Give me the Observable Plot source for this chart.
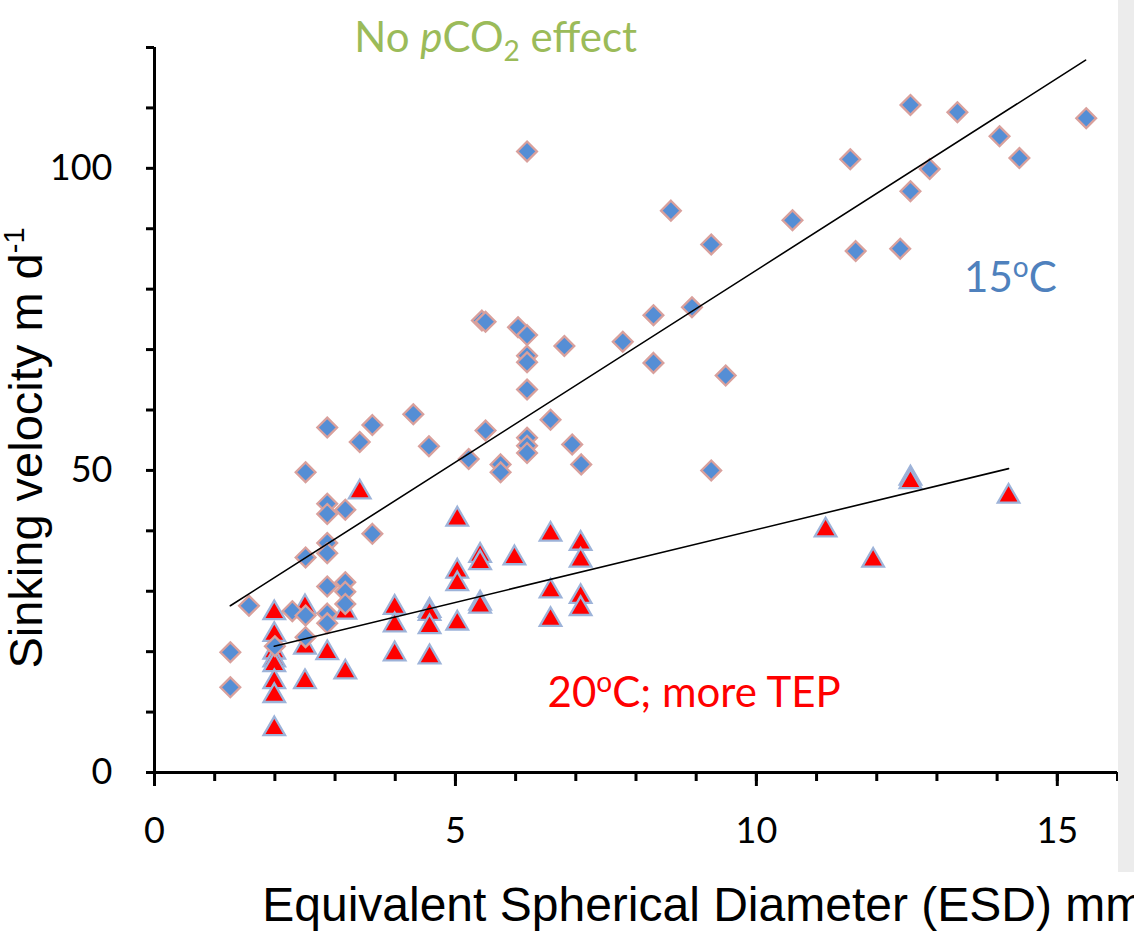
<!DOCTYPE html>
<html>
<head>
<meta charset="utf-8">
<script src="https://cdn.jsdelivr.net/npm/d3@7"></script>
<script src="https://cdn.jsdelivr.net/npm/@observablehq/plot@0.6"></script>
<style>
  html, body { margin: 0; padding: 0; background: #fff; overflow: hidden; }
  #wrap { position: relative; width: 1134px; height: 936px; overflow: hidden; background: #fff; }
  #wrap svg { position: absolute; left: 0; top: 0; overflow: hidden; }
  #band { position: absolute; left: 1118px; top: 0; width: 16px; height: 872px; background: #ececec; z-index: 2; }
</style>
</head>
<body>
<div id="wrap"><div id="band"></div></div>
<script>
// ---- 15 °C (blue diamonds): ESD (mm) and sinking velocity (m d-1)
const esd15 = [1.26, 1.26, 1.57, 2.0, 2.29,
  2.51, 2.51, 2.51, 2.51,
  2.87, 2.87, 2.87, 2.87, 2.87, 2.87, 2.87, 2.87,
  3.17, 3.17, 3.17, 3.17,
  3.41, 3.62, 3.62, 4.3, 4.56, 5.22,
  5.44, 5.5, 5.5, 5.75, 5.75, 6.04,
  6.19, 6.19, 6.19, 6.19, 6.19, 6.19, 6.19, 6.19,
  6.58, 6.81, 6.94, 7.09, 7.78,
  8.29, 8.29, 8.58, 8.93, 9.25, 9.25, 9.49,
  10.6, 11.56, 11.65, 12.39, 12.56, 12.56, 12.88, 13.34, 14.04, 14.37, 15.48];
const vel15 = [19.9, 14.1, 27.6, 20.9, 26.7,
  49.7, 35.6, 26.0, 22.4,
  57.1, 44.5, 42.8, 38.0, 36.3, 30.8, 26.3, 24.7,
  43.5, 31.5, 29.9, 27.9,
  54.7, 57.5, 39.5, 59.3, 54.0, 51.9,
  74.8, 74.6, 56.6, 51.0, 49.7, 73.7,
  102.8, 72.4, 69.0, 67.9, 63.4, 55.4, 54.1, 52.9,
  58.4, 70.6, 54.3, 51.0, 71.3,
  75.7, 67.8, 93.0, 77.0, 87.4, 50.0, 65.7,
  91.4, 101.5, 86.3, 86.7, 110.5, 96.2, 99.9, 109.3, 105.3, 101.7, 108.3];

// ---- 20 °C, more TEP (red triangles)
const esd20 = [1.99, 1.99, 1.99, 1.99, 1.99, 1.99, 1.99, 1.99,
  2.5, 2.5, 2.5, 2.87, 3.17, 3.17, 3.41,
  3.99, 3.99, 3.99, 4.57, 4.57, 4.57, 4.57,
  5.03, 5.03, 5.03, 5.03, 5.41, 5.41, 5.41, 5.41,
  5.98, 6.58, 6.58, 6.58, 7.08, 7.08, 7.08, 7.08,
  11.15, 11.94, 12.56, 12.56, 14.19];
const vel20 = [26.4, 22.8, 19.9, 18.6, 17.8, 15.0, 12.7, 7.2,
  27.4, 20.7, 15.0, 19.8, 26.5, 16.6, 46.4,
  27.3, 24.4, 19.6, 26.8, 26.3, 24.1, 19.1,
  41.9, 33.3, 31.2, 24.7, 35.9, 34.7, 28.0, 27.5,
  35.5, 39.4, 30.0, 25.3, 37.9, 35.1, 29.1, 27.1,
  40.1, 35.1, 48.7, 48.1, 45.7];

// ---- fitted regression lines (end points)
const fit15ESD = [1.26, 15.47];
const fit15Vel = [27.6, 117.9];
const fit20ESD = [1.99, 14.19];
const fit20Vel = [20.9, 50.3];

// ---- ticks
const xLabelTicks = [0, 5, 10, 15];
const xMinorTicks = d3.range(0, 17, 1);
const yLabelTicks = [0, 50, 100];
const yMinorTicks = d3.range(0, 121, 10);

// ---- texts
const xTitle = "Equivalent Spherical Diameter (ESD) mm";
const yTitle = "Sinking velocity m d-1";
const noEffect = "No pCO2 effect";
const label15 = "15oC";
const label20 = "20oC; more TEP";

const pts15 = esd15.map((x, i) => ({x, y: vel15[i]}));
const pts20 = esd20.map((x, i) => ({x, y: vel20[i]}));
const line15 = fit15ESD.map((x, i) => ({x, y: fit15Vel[i]}));
const line20 = fit20ESD.map((x, i) => ({x, y: fit20Vel[i]}));

const calibri = "Lato, 'Open Sans', sans-serif";
const arial = "'Liberation Sans', Arial, sans-serif";

const plot = Plot.plot({
  width: 1134,
  height: 936,
  marginLeft: 154,
  marginRight: 17,
  marginTop: 47,
  marginBottom: 164,
  x: {domain: [0, 16]},
  y: {domain: [0, 120]},
  style: {fontFamily: calibri, background: "transparent", color: "black"},
  marks: [
    Plot.axisX({ticks: xMinorTicks, tickSize: 9, strokeWidth: 3, tickFormat: () => "", label: null}),
    Plot.axisX({ticks: xLabelTicks, tickSize: 14, tickPadding: 31, strokeWidth: 3, fontSize: 36, fill: "black", tickFormat: d => String(d), label: null}),
    Plot.axisY({ticks: yMinorTicks, tickSize: 8, strokeWidth: 3, tickFormat: () => "", label: null}),
    Plot.axisY({ticks: yLabelTicks, tickSize: 0, tickPadding: 42, fontSize: 36, fill: "black", tickFormat: d => String(d), label: null}),
    Plot.ruleY([0], {strokeWidth: 3, stroke: "black"}),
    Plot.ruleX([0], {strokeWidth: 3, stroke: "black"}),
    Plot.dot(pts20, {x: "x", y: "y", symbol: "triangle", r: 8, fill: "#ff0000", stroke: "#9db3d9", strokeWidth: 2.3}),
    Plot.dot(pts15, {x: "x", y: "y", symbol: "diamond2", r: 8.9, fill: "#558ed5", stroke: "#d9a09c", strokeWidth: 2.3}),
    Plot.line(line15, {x: "x", y: "y", stroke: "black", strokeWidth: 1.6}),
    Plot.line(line20, {x: "x", y: "y", stroke: "black", strokeWidth: 1.6}),
    Plot.text([{x: 3.32, y: 119.2, t: noEffect}], {x: "x", y: "y", text: "t", textAnchor: "start", lineAnchor: "bottom", fontSize: 42, fill: "#9bbb59", fontFamily: calibri}),
    Plot.text([{x: 13.45, y: 79.5, t: label15}], {x: "x", y: "y", text: "t", textAnchor: "start", lineAnchor: "bottom", fontSize: 42, fill: "#4f81bd", fontFamily: calibri}),
    Plot.text([{x: 6.53, y: 10.8, t: label20}], {x: "x", y: "y", text: "t", textAnchor: "start", lineAnchor: "bottom", fontSize: 42, fill: "#ff0000", fontFamily: calibri}),
    Plot.text([{x: 1.79, t: xTitle}], {x: "x", frameAnchor: "bottom", text: "t", textAnchor: "start", lineAnchor: "bottom", dy: 148, fontSize: 48, fill: "black", fontFamily: arial}),
    Plot.text([{y: 17.2, t: yTitle}], {y: "y", frameAnchor: "left", text: "t", textAnchor: "start", lineAnchor: "bottom", rotate: -90, dx: -113, fontSize: 47, fill: "black", fontFamily: arial})
  ]
});

// rich-text replacements (italic p, subscript 2, superscript o and -1)
const rich = {
  [noEffect]: 'No <tspan font-style="italic">p</tspan>CO<tspan dy="9" font-size="28">2</tspan><tspan dy="-9"> effect</tspan>',
  [label15]: '15<tspan dy="-15" font-size="28">o</tspan><tspan dy="15">C</tspan>',
  [label20]: '20<tspan dy="-15" font-size="28">o</tspan><tspan dy="15">C; more TEP</tspan>',
  [yTitle]: 'Sinking velocity m d<tspan dy="-18" font-size="29">-1</tspan>'
};
d3.select(plot).selectAll("text").each(function() {
  const s = this.textContent;
  if (rich[s] !== undefined) this.innerHTML = rich[s];
});

document.getElementById("wrap").insertBefore(plot, document.getElementById("band"));
</script>
</body>
</html>
